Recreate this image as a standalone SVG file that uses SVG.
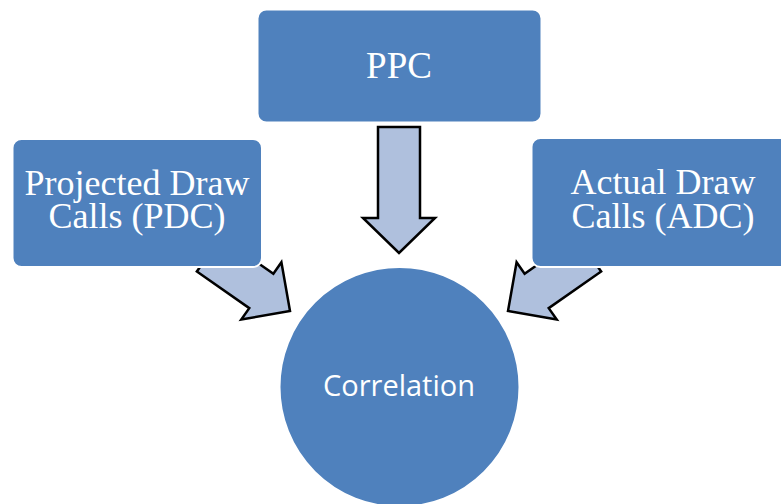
<svg xmlns="http://www.w3.org/2000/svg" width="781" height="504" viewBox="0 0 781 504">
  <style>
    .box { fill: #4F81BD; stroke: #FFFFFF; stroke-width: 2; }
    .arrow { fill: #AFC0DD; stroke: #000000; stroke-width: 2.5; stroke-linejoin: miter; }
    .serif { font-family: "Liberation Serif", "Times New Roman", serif; fill: #FFFFFF; text-anchor: middle; }
    .sans { font-family: "Open Sans", "Liberation Sans", sans-serif; fill: #FFFFFF; text-anchor: middle; }
  </style>
  <rect width="781" height="504" fill="#FFFFFF"/>
  <g id="connectors">
    <polygon class="arrow" points="378,127 420,127 420,218 435,218 399,253 363,218 378,218"/>
    <polygon class="arrow" transform="translate(290,311) rotate(35)" points="0,0 -35,-35 -35,-21 -99,-21 -99,21 -35,21 -35,35"/>
    <polygon class="arrow" transform="translate(508,311) scale(-1,1) rotate(35)" points="0,0 -35,-35 -35,-21 -99,-21 -99,21 -35,21 -35,35"/>
  </g>
  <g id="ppc">
    <rect class="box" x="257.5" y="9.5" width="284" height="113" rx="9"/>
    <text class="serif" x="399" y="78" font-size="37">PPC</text>
  </g>
  <g id="pdc">
    <rect class="box" x="12.5" y="139" width="249.5" height="128" rx="9"/>
    <text class="serif" x="137" y="195" font-size="36">Projected Draw</text>
    <text class="serif" x="137" y="228" font-size="36">Calls (PDC)</text>
  </g>
  <g id="adc">
    <rect class="box" x="531.5" y="138" width="262" height="129" rx="9"/>
    <text class="serif" x="663" y="193.5" font-size="36">Actual Draw</text>
    <text class="serif" x="663" y="227.5" font-size="36">Calls (ADC)</text>
  </g>
  <g id="correlation">
    <circle cx="399.5" cy="387" r="120" fill="#4F81BD" stroke="#FFFFFF" stroke-width="2"/>
    <text class="sans" x="399" y="396" font-size="29">Correlation</text>
  </g>
</svg>
